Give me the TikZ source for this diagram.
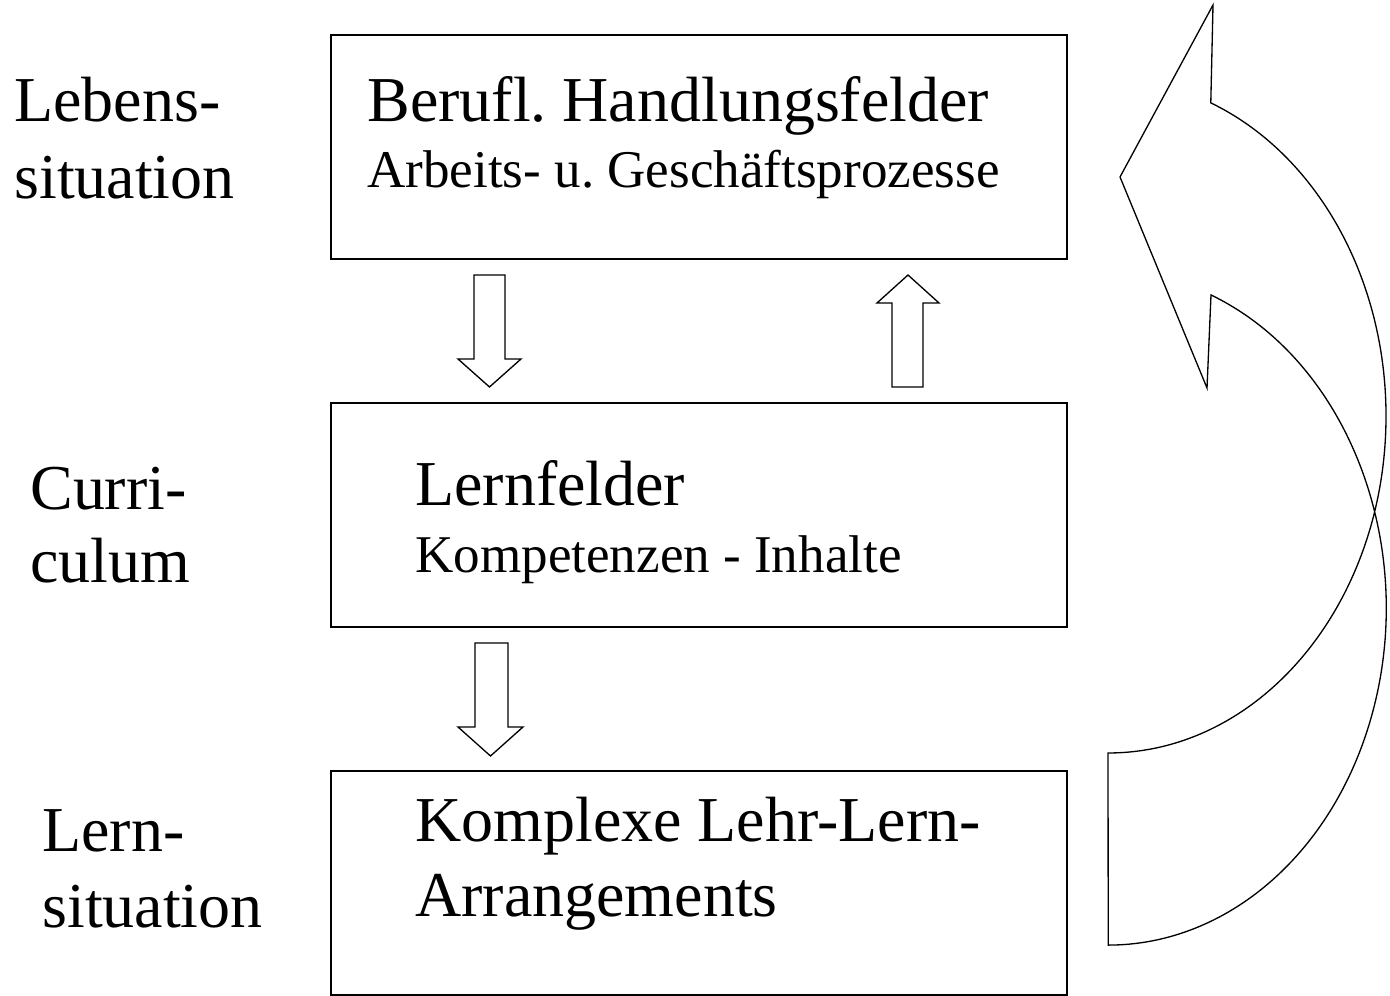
\documentclass[tikz,border=0pt]{standalone}
\usepackage{fontspec}
\setmainfont{Liberation Serif}
\usetikzlibrary{positioning}
\frenchspacing

\tikzset{
  box/.style={draw, line width=0.8pt, minimum width=14.72cm, minimum height=4.48cm, inner sep=0pt},
  bigtext/.style={anchor=base west, inner sep=0pt, font=\fontsize{36.4}{43}\selectfont},
  smalltext/.style={anchor=base west, inner sep=0pt, font=\fontsize{30.2}{36}\selectfont},
  outline/.style={line width=0.75pt}
}

\begin{document}
\begin{tikzpicture}

\useasboundingbox (0, 0) rectangle (27.8, 19.92);

% Draw the boxes
\node[box] (handlung) at (13.98, 16.98) {};
\node[box] (lernfeld) at (13.98, 9.62) {};
\node[box] (arrangement) at (13.98, 2.26) {};

% Add the texts in the boxes
\node[bigtext] (handlungtitle) at (7.34, 17.48) {Berufl. Handlungsfelder};
\node[smalltext] (handlungsub) at (7.34, 16.16) {Arbeits- u. Geschäftsprozesse};
\node[bigtext] (lernfeldtitle) at (8.3, 9.8) {Lernfelder};
\node[smalltext] (lernfeldsub) at (8.3, 8.46) {Kompetenzen - Inhalte};
\node[bigtext] (arrangementtitle) at (8.3, 3.08) {Komplexe Lehr-Lern-};
\node[bigtext] (arrangementsub) at (8.3, 1.58) {Arrangements};

% Add the labels on the left
\node[bigtext] (lebens) at (0.28, 17.48) {Lebens-};
\node[bigtext] (lebenssit) at (0.28, 15.94) {situation};
\node[bigtext] (curri) at (0.6, 9.72) {Curri-};
\node[bigtext] (culum) at (0.6, 8.26) {culum};
\node[bigtext] (lern) at (0.84, 2.88) {Lern-};
\node[bigtext] (lernsit) at (0.84, 1.36) {situation};

% Draw the block arrows between the boxes
\draw[outline] (9.48, 14.42) -- (10.1, 14.42) -- (10.1, 12.74) -- (10.42, 12.74)
  -- (9.79, 12.18) -- (9.16, 12.74) -- (9.48, 12.74) -- cycle;
\draw[outline] (17.84, 12.18) -- (18.46, 12.18) -- (18.46, 13.86) -- (18.78, 13.86)
  -- (18.16, 14.42) -- (17.54, 13.86) -- (17.84, 13.86) -- cycle;
\draw[outline] (9.5, 7.06) -- (10.16, 7.06) -- (10.16, 5.38) -- (10.46, 5.38)
  -- (9.81, 4.8) -- (9.16, 5.38) -- (9.5, 5.38) -- cycle;

% Draw the curved arrow on the right
\draw[outline] (22.16, 4.86)
  arc[start angle=270, end angle=428.3, x radius=5.56, y radius=6.74]
  -- (24.26, 19.82) -- (22.4, 16.38) -- (24.14, 12.16) -- (24.22, 14.02)
  arc[start angle=68.3, end angle=-90, x radius=5.56, y radius=6.74]
  -- cycle;

\end{tikzpicture}
\end{document}
